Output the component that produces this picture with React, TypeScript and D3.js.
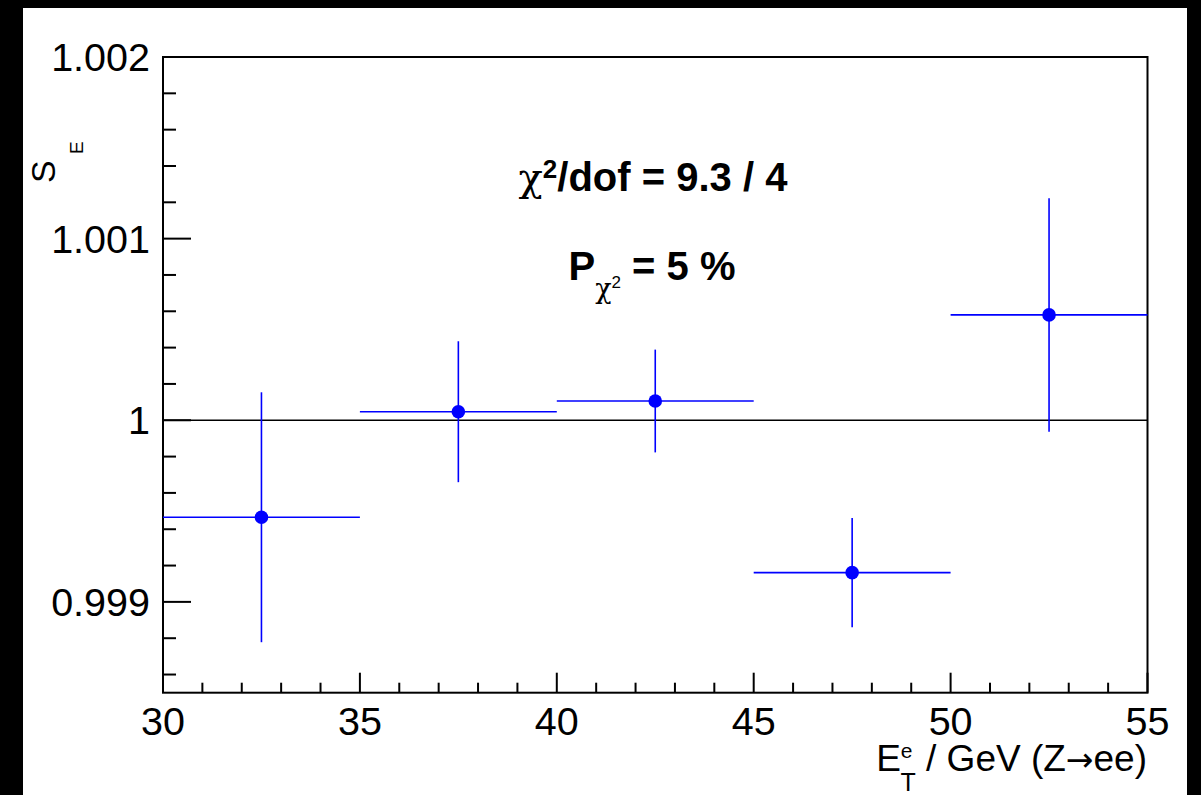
import React from "react";
import * as d3 from "d3";

const binLow = [30, 35, 40, 45, 50];
const binHigh = [35, 40, 45, 50, 55];
const xCenters = [32.5, 37.5, 42.5, 47.5, 52.5];
const sValues = [0.999466, 1.000047, 1.000106, 0.999161, 1.00058];
const sErrors = [0.000688, 0.000388, 0.000283, 0.000301, 0.000643];
const xMajorTicks = [30, 35, 40, 45, 50, 55];
const yMajorTicks = [0.999, 1.0, 1.001, 1.002];
const yTickLabels = ["0.999", "1", "1.001", "1.002"];

const FONT = "'Liberation Sans', Arial, Helvetica, sans-serif";
const GREEK = "'DejaVu Serif', 'Liberation Serif', serif";

export default function App() {
  const W = 1201, H = 795;
  const left = 163, right = 1147.5, top = 57, bottom = 692.7;
  const x = d3.scaleLinear().domain([30, 55]).range([left, right]);
  const y = d3.scaleLinear().domain([0.9985, 1.002]).range([bottom, top]);

  const xMinor = d3.range(30, 55.001, 1).filter((v) => Math.abs(v % 5) > 1e-6);
  const yMinor = d3.range(0, 18).map((i) => 0.9986 + i * 0.0002)
    .filter((v) => v < 1.002 && yMajorTicks.every((m) => Math.abs(m - v) > 1e-7));

  const axisColor = "#000";
  const blue = "#0000ff";

  return (
    <svg width={W} height={H} style={{ position: "fixed", left: 0, top: 0, display: "block" }} fontFamily={FONT}>
      <rect x={0} y={0} width={W} height={H} fill="#000" />
      <rect x={23} y={8} width={1187 - 23} height={H - 8} fill="#fff" />

      {/* frame */}
      <rect x={left} y={top} width={right - left} height={bottom - top} fill="none" stroke={axisColor} strokeWidth={2} />

      {/* x ticks */}
      {xMajorTicks.map((t) => (
        <line key={"xM" + t} x1={x(t)} x2={x(t)} y1={bottom} y2={bottom - 20} stroke={axisColor} strokeWidth={2} />
      ))}
      {xMinor.map((t) => (
        <line key={"xm" + t} x1={x(t)} x2={x(t)} y1={bottom} y2={bottom - 10} stroke={axisColor} strokeWidth={2} />
      ))}
      {xMajorTicks.map((t) => (
        <text key={"xl" + t} x={x(t)} y={735} textAnchor="middle" fontSize={39.5} fill="#000">{t}</text>
      ))}

      {/* y ticks */}
      {yMajorTicks.map((t) => (
        <line key={"yM" + t} x1={left} x2={left + 28} y1={y(t)} y2={y(t)} stroke={axisColor} strokeWidth={2} />
      ))}
      {yMinor.map((t) => (
        <line key={"ym" + t} x1={left} x2={left + 13} y1={y(t)} y2={y(t)} stroke={axisColor} strokeWidth={2} />
      ))}
      {yMajorTicks.map((t, i) => (
        <text key={"yl" + t} x={150} y={y(t) + 14} textAnchor="end" fontSize={39.5} fill="#000">{yTickLabels[i]}</text>
      ))}

      {/* reference line at 1 */}
      <line x1={left} x2={right} y1={y(1)} y2={y(1)} stroke="#000" strokeWidth={1.5} />

      {/* data */}
      {xCenters.map((xc, i) => (
        <g key={"p" + i}>
          <line x1={x(binLow[i])} x2={x(binHigh[i])} y1={y(sValues[i])} y2={y(sValues[i])} stroke={blue} strokeWidth={1.6} />
          <line x1={x(xc)} x2={x(xc)} y1={y(sValues[i] - sErrors[i])} y2={y(sValues[i] + sErrors[i])} stroke={blue} strokeWidth={1.6} />
          <circle cx={x(xc)} cy={y(sValues[i])} r={6.8} fill={blue} />
        </g>
      ))}

      {/* annotation line 1 */}
      <text x={653} y={191} fontSize={40} fontWeight="bold" fill="#000" textAnchor="middle">
        <tspan fontWeight="normal" fontFamily={GREEK}>χ</tspan>
        <tspan fontSize={26} dy={-13}>2</tspan>
        <tspan dy={13}>/dof = 9.3 / 4</tspan>
      </text>

      {/* annotation line 2 */}
      <text x={652} y={280} fontSize={40} fontWeight="bold" fill="#000" textAnchor="middle">
        <tspan>P</tspan>
        <tspan fontSize={27} fontWeight="normal" fontFamily={GREEK} dy={18}>χ</tspan>
        <tspan fontSize={17} fontWeight="normal" dy={-10}>2</tspan>
        <tspan dy={-8}>{"\u00a0= 5 %"}</tspan>
      </text>

      {/* y axis title */}
      <g transform="translate(55,183) rotate(-90)">
        <text x={0} y={0} fontSize={34} fill="#000">S</text>
        <text x={0} y={0} fontSize={19} fill="#000" transform="translate(29,28)">E</text>
      </g>

      {/* x axis title */}
      <text x={1147} y={771} fontSize={37} fill="#000" textAnchor="end">
        <tspan>E</tspan>
        <tspan fontSize={21} dy={-13}>e</tspan>
        <tspan fontSize={25} dx={-12} dy={33}>T</tspan>
        <tspan dy={-20}>{"\u00a0/ GeV (Z"}</tspan>
        <tspan fontFamily="'DejaVu Sans', sans-serif" fontSize={33}>→</tspan>
        <tspan>ee)</tspan>
      </text>
    </svg>
  );
}
